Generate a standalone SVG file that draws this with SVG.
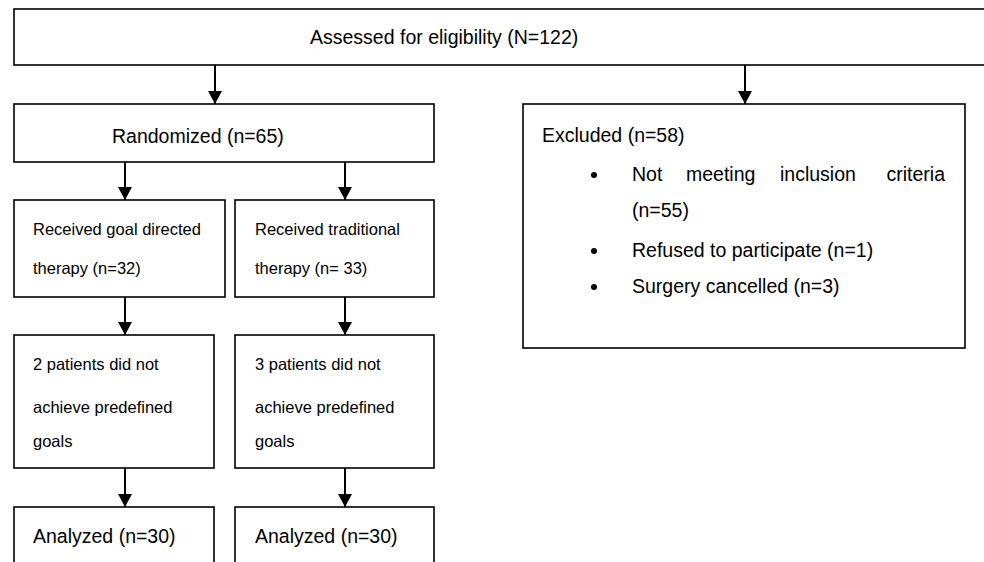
<svg xmlns="http://www.w3.org/2000/svg" width="984" height="562" viewBox="0 0 984 562">
<defs>
<style>
.box{fill:#fff;stroke:#000;stroke-width:1.6}
.c{stroke:#000;stroke-width:2;fill:none}
.L{font-family:"Liberation Sans",Arial,sans-serif;font-size:19.5px;fill:#000}
.S{font-family:"Liberation Sans",Arial,sans-serif;font-size:16.5px;fill:#000}
</style>
<marker id="ah" viewBox="0 0 13 14" refX="13" refY="7" markerWidth="13" markerHeight="14" markerUnits="userSpaceOnUse" orient="auto">
<path d="M0,0 L13,7 L0,14 z" fill="#000"/>
</marker>
</defs>
<rect width="984" height="562" fill="#fff"/>
<g id="assessed">
<rect class="box" x="14" y="9" width="980" height="56"/>
<text class="L" x="310" y="44">Assessed for eligibility (N=122)</text>
</g>
<g id="randomized">
<rect class="box" x="14" y="104" width="420" height="58"/>
<text class="L" x="112" y="143">Randomized (n=65)</text>
</g>
<g id="excluded">
<rect class="box" x="523" y="104" width="442" height="244"/>
<text class="L" x="542" y="142">Excluded (n=58)</text>
<circle cx="594" cy="175" r="3"/>
<text class="L" x="632" y="181">Not</text>
<text class="L" x="686" y="181">meeting</text>
<text class="L" x="780" y="181">inclusion</text>
<text class="L" x="945" y="181" text-anchor="end">criteria</text>
<text class="L" x="632" y="217">(n=55)</text>
<circle cx="594" cy="251" r="3"/>
<text class="L" x="632" y="257">Refused to participate (n=1)</text>
<circle cx="594" cy="287" r="3"/>
<text class="L" x="632" y="293">Surgery cancelled (n=3)</text>
</g>
<g id="gdt">
<rect class="box" x="14" y="200" width="211" height="97"/>
<text class="S" x="33" y="235">Received goal directed</text>
<text class="S" x="33" y="274">therapy (n=32)</text>
</g>
<g id="trad">
<rect class="box" x="235" y="200" width="199" height="97"/>
<text class="S" x="255" y="235">Received traditional</text>
<text class="S" x="255" y="274">therapy (n= 33)</text>
</g>
<g id="gdt-fail">
<rect class="box" x="14" y="335" width="200" height="133"/>
<text class="S" x="33" y="370">2 patients did not</text>
<text class="S" x="33" y="413">achieve predefined</text>
<text class="S" x="33" y="447">goals</text>
</g>
<g id="trad-fail">
<rect class="box" x="235" y="335" width="199" height="133"/>
<text class="S" x="255" y="370">3 patients did not</text>
<text class="S" x="255" y="413">achieve predefined</text>
<text class="S" x="255" y="447">goals</text>
</g>
<g id="gdt-analyzed">
<rect class="box" x="14" y="507" width="200" height="70"/>
<text class="L" x="33" y="543">Analyzed (n=30)</text>
</g>
<g id="trad-analyzed">
<rect class="box" x="235" y="507" width="199" height="70"/>
<text class="L" x="255" y="543">Analyzed (n=30)</text>
</g>
<g id="connectors">
<line class="c" x1="215" y1="65" x2="215" y2="104" marker-end="url(#ah)"/>
<line class="c" x1="745" y1="65" x2="745" y2="104" marker-end="url(#ah)"/>
<line class="c" x1="125" y1="162" x2="125" y2="200" marker-end="url(#ah)"/>
<line class="c" x1="345" y1="162" x2="345" y2="200" marker-end="url(#ah)"/>
<line class="c" x1="125" y1="297" x2="125" y2="335" marker-end="url(#ah)"/>
<line class="c" x1="345" y1="297" x2="345" y2="335" marker-end="url(#ah)"/>
<line class="c" x1="125" y1="468" x2="125" y2="507" marker-end="url(#ah)"/>
<line class="c" x1="345" y1="468" x2="345" y2="507" marker-end="url(#ah)"/>
</g>
</svg>
